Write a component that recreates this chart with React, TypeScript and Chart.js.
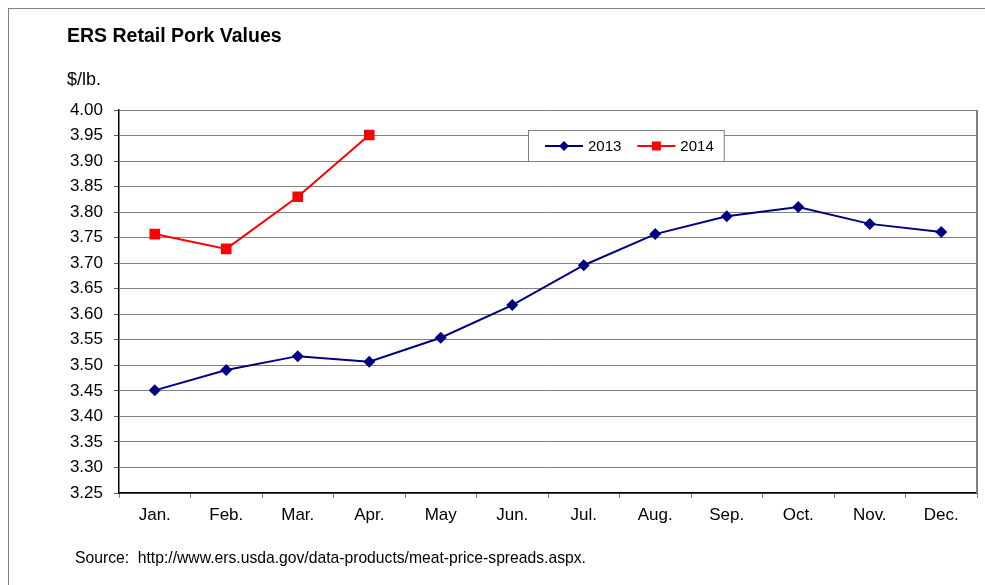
import React, { useEffect, useRef } from 'react';
import { Chart, registerables } from 'chart.js';

Chart.register(...registerables);

const months = ['Jan.', 'Feb.', 'Mar.', 'Apr.', 'May', 'Jun.', 'Jul.', 'Aug.', 'Sep.', 'Oct.', 'Nov.', 'Dec.'];
const values2013 = [3.451, 3.491, 3.518, 3.507, 3.554, 3.618, 3.696, 3.757, 3.792, 3.81, 3.777, 3.761];
const values2014 = [3.757, 3.728, 3.83, 3.951];
const seriesLabels = ['2013', '2014'];
const yMin = 3.25;
const yMax = 4.0;
const yStep = 0.05;
const chartTitle = 'ERS Retail Pork Values';
const yUnit = '$/lb.';
const sourceNote = 'Source:  http://www.ers.usda.gov/data-products/meat-price-spreads.aspx.';

const FONT = '"Liberation Sans", Arial, Helvetica, sans-serif';

const decorPlugin = {
  id: 'decor',
  beforeDraw(chart: any) {
    const { ctx, width, height } = chart;
    ctx.save();
    ctx.fillStyle = '#ffffff';
    ctx.fillRect(0, 0, width, height);
    ctx.strokeStyle = '#808080';
    ctx.lineWidth = 1;
    ctx.strokeRect(8.5, 8.5, width + 20, height + 20);
    ctx.restore();
  },
  afterDraw(chart: any) {
    const { ctx, chartArea } = chart;
    ctx.save();
    // right border of plot
    ctx.strokeStyle = '#808080';
    ctx.lineWidth = 2;
    ctx.beginPath();
    ctx.moveTo(chartArea.right, chartArea.top);
    ctx.lineTo(chartArea.right, chartArea.bottom);
    ctx.stroke();

    // texts
    ctx.fillStyle = '#000';
    ctx.textAlign = 'left';
    ctx.textBaseline = 'alphabetic';
    ctx.font = `bold 19.5px ${FONT}`;
    ctx.fillText(chartTitle, 67, 42);
    ctx.font = `18px ${FONT}`;
    ctx.fillText(yUnit, 67, 85);
    ctx.font = `15.7px ${FONT}`;
    ctx.fillText(sourceNote, 75, 563);

    // legend
    const ds = chart.data.datasets;
    ctx.font = `15px ${FONT}`;
    const lineLen = 38;
    const padL = 17;
    const gapLT = 5;
    const gapItem = 16;
    const padR = 10;
    let total = padL;
    ds.forEach((d: any, i: number) => {
      total += lineLen + gapLT + ctx.measureText(d.label).width;
      if (i < ds.length - 1) total += gapItem;
    });
    total += padR;
    const boxL = 528;
    const boxT = 130;
    const boxH = 31;
    ctx.fillStyle = '#fff';
    ctx.fillRect(boxL, boxT, total, boxH);
    ctx.strokeStyle = '#808080';
    ctx.lineWidth = 1;
    ctx.strokeRect(boxL + 0.5, boxT + 0.5, total, boxH);
    const cy = boxT + boxH / 2 + 0.5;
    let x = boxL + padL;
    ds.forEach((d: any) => {
      ctx.strokeStyle = d.borderColor;
      ctx.lineWidth = 2;
      ctx.beginPath();
      ctx.moveTo(x, cy);
      ctx.lineTo(x + lineLen, cy);
      ctx.stroke();
      const mx = x + lineLen / 2;
      ctx.fillStyle = d.pointBackgroundColor;
      if (d.pointStyle === 'rect') {
        const s = 9;
        ctx.fillRect(mx - s / 2, cy - s / 2, s, s);
      } else {
        const r = 5;
        ctx.beginPath();
        ctx.moveTo(mx, cy - r);
        ctx.lineTo(mx + r, cy);
        ctx.lineTo(mx, cy + r);
        ctx.lineTo(mx - r, cy);
        ctx.closePath();
        ctx.fill();
      }
      x += lineLen + gapLT;
      ctx.fillStyle = '#000';
      ctx.textBaseline = 'middle';
      ctx.fillText(d.label, x, cy + 1);
      x += ctx.measureText(d.label).width + gapItem;
    });
    ctx.restore();
  },
};

export default function App() {
  const ref = useRef<HTMLCanvasElement | null>(null);
  useEffect(() => {
    if (!ref.current) return;
    const chart = new Chart(ref.current, {
      type: 'line',
      data: {
        labels: months,
        datasets: [
          {
            label: seriesLabels[0],
            data: values2013,
            borderColor: '#000080',
            backgroundColor: '#000080',
            pointBackgroundColor: '#000080',
            pointBorderColor: '#000080',
            pointStyle: 'rectRot',
            pointRadius: 6,
            pointBorderWidth: 0,
            borderWidth: 2,
            tension: 0,
          },
          {
            label: seriesLabels[1],
            data: values2014,
            borderColor: '#ff0000',
            backgroundColor: '#ff0000',
            pointBackgroundColor: '#ff0000',
            pointBorderColor: '#ff0000',
            pointStyle: 'rect',
            pointRadius: 7.5,
            pointBorderWidth: 0,
            borderWidth: 2,
            tension: 0,
          },
        ],
      },
      options: {
        animation: false,
        responsive: false,
        devicePixelRatio: 1,
        layout: { padding: { top: 110, left: 0, right: 8, bottom: 52 } },
        plugins: {
          legend: { display: false },
          title: { display: false },
          tooltip: { enabled: false },
        },
        scales: {
          x: {
            type: 'category',
            offset: true,
            afterFit: (s: any) => {
              s.height = 40;
            },
            grid: {
              offset: true,
              drawOnChartArea: false,
              drawTicks: true,
              tickLength: 5,
              color: '#808080',
            },
            border: { color: '#000', width: 1.5 },
            ticks: {
              color: '#000',
              font: { family: FONT, size: 17 },
              padding: 7,
              maxRotation: 0,
              autoSkip: false,
            },
          },
          y: {
            min: yMin,
            max: yMax,
            afterFit: (s: any) => {
              s.width = 119;
            },
            grid: {
              color: '#808080',
              lineWidth: 1,
              drawTicks: true,
              tickLength: 5,
              tickColor: '#555',
            },
            border: { color: '#000', width: 1.5 },
            ticks: {
              stepSize: yStep,
              color: '#000',
              font: { family: FONT, size: 17 },
              padding: 11,
              callback: (v: any) => Number(v).toFixed(2),
            },
          },
        },
      },
      plugins: [decorPlugin],
    });
    return () => chart.destroy();
  }, []);
  return (
    <div style={{ position: 'fixed', left: 0, top: 0, width: 985, height: 585, background: '#fff' }}>
      <canvas ref={ref} width={985} height={585} style={{ display: 'block' }} />
    </div>
  );
}
